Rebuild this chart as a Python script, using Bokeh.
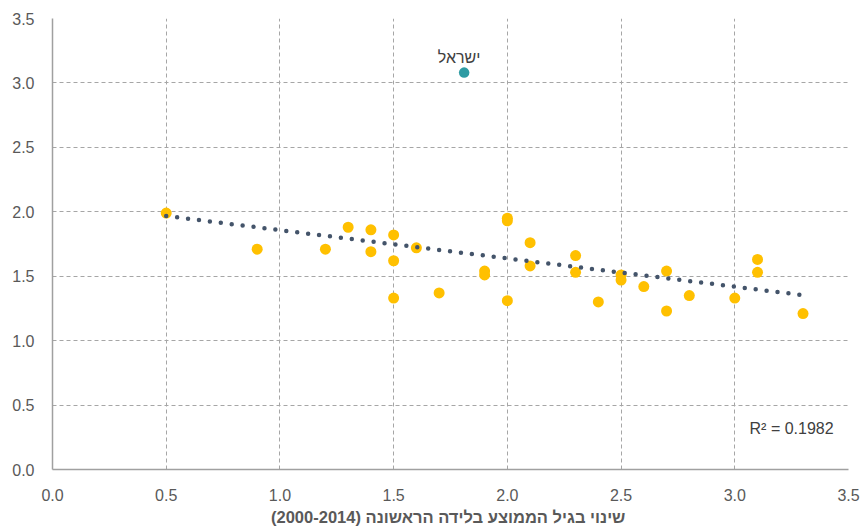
import numpy as np
from bokeh.plotting import figure
from bokeh.models import FixedTicker, Label
from bokeh.core.properties import value
from bokeh.embed import file_html
from bokeh.resources import INLINE

# ---- data ----
x_vals = [0.5, 0.9, 1.2, 1.3, 1.4, 1.4, 1.5, 1.5, 1.5, 1.6, 1.7, 1.9, 1.9, 2.0, 2.0, 2.0,
          2.1, 2.1, 2.3, 2.3, 2.4, 2.5, 2.5, 2.6, 2.7, 2.7, 2.8, 3.0, 3.1, 3.1, 3.3]
y_vals = [1.99, 1.71, 1.71, 1.88, 1.86, 1.69, 1.82, 1.62, 1.33, 1.72, 1.37, 1.54, 1.51, 1.95, 1.93, 1.31,
          1.76, 1.58, 1.66, 1.53, 1.30, 1.51, 1.47, 1.42, 1.54, 1.23, 1.35, 1.33, 1.63, 1.53, 1.21]
israel_x = [1.81]
israel_y = [3.08]
israel_label = ["ישראל"]
r2_text = "R² = 0.1982"
x_ticks = [0.0, 0.5, 1.0, 1.5, 2.0, 2.5, 3.0, 3.5]
x_tick_labels = ["0.0", "0.5", "1.0", "1.5", "2.0", "2.5", "3.0", "3.5"]
y_ticks = [0.0, 0.5, 1.0, 1.5, 2.0, 2.5, 3.0, 3.5]
y_tick_labels = ["0.0", "0.5", "1.0", "1.5", "2.0", "2.5", "3.0", "3.5"]
x_title = "שינוי בגיל הממוצע בלידה  הראשונה (2000-2014)\u200f"

# linear trend (all points)
all_x = np.array(x_vals + israel_x)
all_y = np.array(y_vals + israel_y)
slope, intercept = np.polyfit(all_x, all_y, 1)
trend_x = [min(all_x), max(all_x)]
trend_y = [slope * v + intercept for v in trend_x]

FONT = "Liberation Sans"
TICK_COLOR = "#595959"
GRID_COLOR = "#A6A6A6"

p = figure(width=862, height=528, x_range=(0, 3.5), y_range=(0, 3.5),
           output_backend="svg", toolbar_location=None,
           min_border_left=52, min_border_right=14, min_border_top=18, min_border_bottom=59)
p.outline_line_color = None
p.background_fill_color = "white"

for ax, ticks, labels in ((p.xaxis, x_ticks, x_tick_labels), (p.yaxis, y_ticks, y_tick_labels)):
    ax.ticker = FixedTicker(ticks=ticks)
    ax.major_label_overrides = {t: l for t, l in zip(ticks, labels)}
    ax.major_tick_out = 0
    ax.major_tick_in = 0
    ax.minor_tick_out = 0
    ax.minor_tick_in = 0
    ax.axis_line_color = "#A0A0A0"
    ax.axis_line_width = 1.5
    ax.major_label_text_font = FONT
    ax.major_label_text_font_size = "16px"
    ax.major_label_text_color = TICK_COLOR

p.xaxis.major_label_standoff = 19
p.yaxis.major_label_standoff = 18

p.xaxis.axis_label = x_title
p.xaxis.axis_label_text_font = FONT
p.xaxis.axis_label_text_font_size = "16.5px"
p.xaxis.axis_label_text_font_style = "bold"
p.xaxis.axis_label_text_color = TICK_COLOR
p.xaxis.axis_label_standoff = 4

for g in (p.xgrid, p.ygrid):
    g.grid_line_color = GRID_COLOR
    g.grid_line_dash = "4 3"
    g.grid_line_width = 1

p.scatter(x_vals, y_vals, size=11, color="#FFC000", line_color=None)
p.scatter(israel_x, israel_y, size=10.5, color="#2E9BA3", line_color=None)

p.line(trend_x, trend_y, line_color="#44546A", line_width=4.5, line_dash="0 11", line_cap="round")

p.text(x=israel_x, y=israel_y, text=israel_label, x_offset=-5, y_offset=-15,
       text_align="center", text_baseline="middle",
       text_font=value(FONT), text_font_size="16px", text_color="#404040")

p.add_layout(Label(x=3.065, y=0.318, text=r2_text, text_baseline="middle", text_align="left",
                   text_font=FONT, text_font_size="16px", text_color="#404040"))

open("out.html", "w").write(file_html(p, INLINE))
